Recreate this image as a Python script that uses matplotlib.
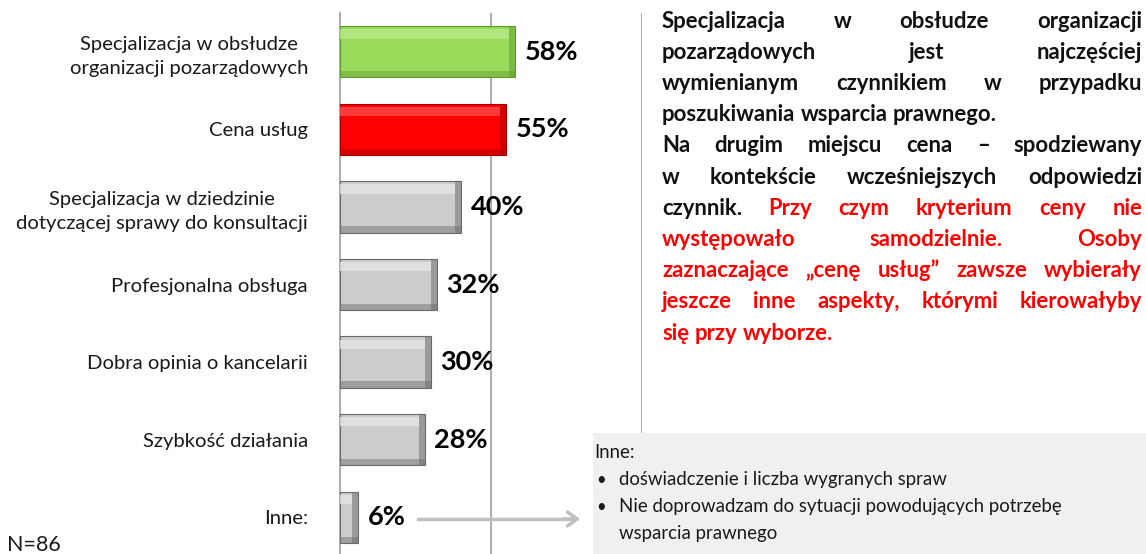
import numpy as np
import matplotlib.pyplot as plt
from matplotlib.patches import Rectangle
import matplotlib.transforms as mtransforms

plt.rcParams['font.family'] = ['Lato', 'DejaVu Sans']

categories = ['Specjalizacja w obsłudze\norganizacji pozarządowych',
              'Cena usług',
              'Specjalizacja w dziedzinie\ndotyczącej sprawy do konsultacji',
              'Profesjonalna obsługa',
              'Dobra opinia o kancelarii',
              'Szybkość działania',
              'Inne:']
values = [58, 55, 40, 32, 30, 28, 6]
bar_colors = ['#9BDB5C', '#FF0000', '#CCCCCC', '#CCCCCC', '#CCCCCC', '#CCCCCC', '#CCCCCC']
light_colors = ['#B8E88A', '#FF4A4A', '#E4E4E4', '#E4E4E4', '#E4E4E4', '#E4E4E4', '#E4E4E4']
dark_colors = ['#5E9A2E', '#A80000', '#6A6A6A', '#6A6A6A', '#6A6A6A', '#6A6A6A', '#6A6A6A']

# comment text, one entry per line: words in red (indices or 'all'), justified flag
black, red = '#111111', '#FF0000'
comment_lines = [
    ("Specjalizacja w obsłudze organizacji", [], True),
    ("pozarządowych jest najczęściej", [], True),
    ("wymienianym czynnikiem w przypadku", [], True),
    ("poszukiwania wsparcia prawnego.", [], False),
    ("Na drugim miejscu cena – spodziewany", [], True),
    ("w kontekście wcześniejszych odpowiedzi", [], True),
    ("czynnik. Przy czym kryterium ceny nie", [1, 2, 3, 4, 5], True),
    ("występowało samodzielnie. Osoby", 'all', True),
    ("zaznaczające „cenę usług” zawsze wybierały", 'all', True),
    ("jeszcze inne aspekty, którymi kierowałyby", 'all', True),
    ("się przy wyborze.", 'all', False),
]
inne_title = 'Inne:'
inne_items = [['doświadczenie i liczba wygranych spraw'],
              ['Nie doprowadzam do sytuacji powodujących potrzebę', 'wsparcia prawnego']]

W, H = 1146, 554
fig = plt.figure(figsize=(W / 100, H / 100), dpi=100)
ax = fig.add_axes([340 / W, -2 / H, 302 / W, 543 / H])

pos = np.arange(len(values))
h = 0.66
bev = 2.0  # bevel width in %
vals = np.array(values, dtype=float)
ax.barh(pos, vals, height=h, color=bar_colors, edgecolor=dark_colors, linewidth=0.8, zorder=3)
ax.barh(pos - h / 2 + 0.1, vals - bev, height=0.12, color=light_colors, alpha=0.8, zorder=4)
ax.barh(pos + h / 2 - 0.04, vals, height=0.08, color=dark_colors, alpha=0.45, zorder=4)
ax.barh(pos, np.full(len(vals), bev), left=vals - bev, height=h, color=dark_colors, alpha=0.5, zorder=4)

for p, v in zip(pos, values):
    ax.text(v + 3.2, p, f'{v}%', va='center', ha='left', fontsize=19.5, fontweight='bold',
            color='black', zorder=5)

ax.set_xlim(0, 100)
ax.set_ylim(len(values) - 0.5, -0.5)
ax.set_yticks(pos)
ax.set_yticklabels(categories, fontsize=14.6, color='#1A1A1A', multialignment='center',
                   linespacing=1.5)
ax.tick_params(axis='y', length=0, pad=23)
ax.set_xticks([])
for x in (50, 100):
    ax.axvline(x, color='#A6A6A6', lw=1.3, zorder=1)
for s in ('top', 'right', 'bottom'):
    ax.spines[s].set_visible(False)
ax.spines['left'].set_color('#A6A6A6')
ax.spines['left'].set_linewidth(1.3)

# N
fig.text(7 / W, 1 - 545 / H, 'N=86', fontsize=15.5, va='center', ha='left', color='#1A1A1A')

# grey box with "Inne" answers
fig.patches.append(Rectangle((593 / W, 0), 1 - 593 / W, 121 / H, transform=fig.transFigure,
                             facecolor='#F0F0F0', edgecolor='none', zorder=0))
fig.text(594 / W, 1 - 453 / H, inne_title, fontsize=13.4, va='center', ha='left', color='#1A1A1A')
y = 480
for item in inne_items:
    fig.text(596 / W, 1 - y / H, '•', fontsize=12, va='center', ha='left', color='#1A1A1A')
    for ln in item:
        fig.text(619 / W, 1 - y / H, ln, fontsize=13.4, va='center', ha='left', color='#1A1A1A')
        y += 26.5

# arrow from "6%" to the box
fig.add_artist(plt.Line2D([418 / W, 570 / W], [1 - 519 / H] * 2, color='#C0C0C0', lw=2.5))
ax.annotate('', xy=(583, H - 519), xytext=(560, H - 519), xycoords='figure pixels',
            textcoords='figure pixels',
            arrowprops=dict(arrowstyle='->,head_length=0.7,head_width=0.5', color='#C0C0C0', lw=2.5))

# justified comment text
renderer = fig.canvas.get_renderer()
ident = mtransforms.IdentityTransform()
left_px, right_px = 662, 1142
y0, dy = 21, 31.2
fs = 15.9
t1 = fig.text(0, 0, 'a a', fontsize=fs, fontweight='bold')
t2 = fig.text(0, 0, 'aa', fontsize=fs, fontweight='bold')
space = t1.get_window_extent(renderer).width - t2.get_window_extent(renderer).width
t1.remove()
t2.remove()
for i, (line, red_idx, justify) in enumerate(comment_lines):
    words = line.split(' ')
    texts = []
    for j, wd in enumerate(words):
        c = red if (red_idx == 'all' or j in red_idx) else black
        texts.append(fig.text(0, 0, wd, fontsize=fs, fontweight='bold', color=c,
                              va='center', ha='left', transform=ident))
    widths = [t.get_window_extent(renderer).width for t in texts]
    if justify and len(words) > 1:
        gap = (right_px - left_px - sum(widths)) / (len(words) - 1)
    else:
        gap = space
    x = left_px
    ypix = H - (y0 + dy * i)
    for t, w in zip(texts, widths):
        t.set_position((x, ypix))
        x += w + gap

fig.savefig('out.png', dpi=100)
